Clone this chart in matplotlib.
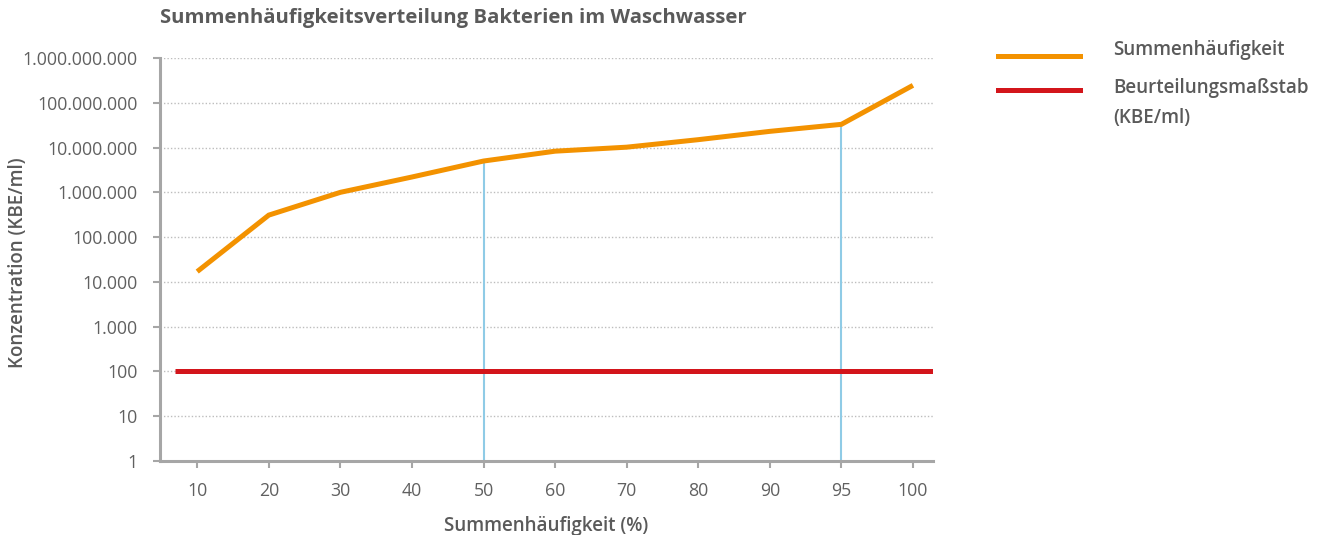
import matplotlib
matplotlib.use("Agg")
import matplotlib.pyplot as plt
from matplotlib.lines import Line2D
from matplotlib.ticker import FixedLocator, NullLocator

plt.rcParams['font.family'] = ['Open Sans', 'DejaVu Sans']

categories = ["10", "20", "30", "40", "50", "60", "70", "80", "90", "95", "100"]
summen = [17000, 310000, 1000000, 2200000, 5000000, 8300000, 10200000,
          15000000, 23000000, 33000000, 245000000]
beurteilung = 100
marker_cats = ["50", "95"]
yticks = [1, 10, 100, 1000, 10000, 100000, 1000000, 10000000, 100000000, 1000000000]
ytick_labels = ["1", "10", "100", "1.000", "10.000", "100.000", "1.000.000",
                "10.000.000", "100.000.000", "1.000.000.000"]

TXT = "#5a5a5a"
ORANGE = "#f39200"
RED = "#d3151b"
BLUE = "#8fcbe6"

fig = plt.figure(figsize=(13.22, 5.35), dpi=100)
ax = fig.add_axes([160/1322, 1-461/535, (933-160)/1322, (461-58)/535])

x = list(range(len(categories)))
ax.set_yscale("log")
ax.set_ylim(1, 1e9)
ax.set_xlim(-0.52, 10.28)

# grid
for v in yticks[1:]:
    ax.axhline(v, color="#bdbdbd", lw=1.0, ls=(0, (1, 1.5)), zorder=1)

# vertical markers
for c in marker_cats:
    i = categories.index(c)
    ax.vlines(i, 1, summen[i], color=BLUE, lw=1.5, zorder=2)

# red threshold
ax.plot([-0.31, 10.28], [beurteilung, beurteilung], color=RED, lw=3.6,
        solid_capstyle="butt", zorder=3)
# orange curve
ax.plot(x, summen, color=ORANGE, lw=3.6, solid_capstyle="butt",
        solid_joinstyle="miter", zorder=4)

ax.yaxis.set_major_locator(FixedLocator(yticks))
ax.yaxis.set_minor_locator(NullLocator())
ax.set_yticklabels(ytick_labels)
ax.set_xticks(x)
ax.set_xticklabels(categories)

for s in ["top", "right"]:
    ax.spines[s].set_visible(False)
for s in ["left", "bottom"]:
    ax.spines[s].set_color("#a6a6a6")
    ax.spines[s].set_linewidth(2.2)
ax.tick_params(axis="both", colors="#a6a6a6", labelcolor="#606060", labelsize=12.8,
               length=5, width=1.5)
ax.tick_params(axis="x", pad=10)
ax.tick_params(axis="y", pad=11)

ax.set_xlabel("Summenhäufigkeit (%)", fontsize=13.5, color=TXT, fontweight="semibold",
              labelpad=12)
ax.set_ylabel("Konzentration (KBE/ml)", fontsize=13.5, color=TXT, fontweight="semibold")
ax.yaxis.set_label_coords(-152/773, 0.49, transform=None)
ax.yaxis.label.set_position((18/1322, 1-263/535))
ax.yaxis.label.set_transform(fig.transFigure)
ax.yaxis.label.set_va("center")
ax.yaxis.label.set_ha("center")
fig.text(160/1322, 1-18/535, "Summenhäufigkeitsverteilung Bakterien im Waschwasser",
         fontsize=14.6, fontweight="bold", color=TXT, ha="left", va="center")

# legend
fig.add_artist(Line2D([998/1322, 1080/1322], [1-56/535, 1-56/535], color=ORANGE, lw=3.6,
                      transform=fig.transFigure))
fig.add_artist(Line2D([998/1322, 1080/1322], [1-90/535, 1-90/535], color=RED, lw=3.6,
                      transform=fig.transFigure))
fig.text(1113/1322, 1-50/535, "Summenhäufigkeit", fontsize=13.5, color=TXT,
         fontweight="semibold", ha="left", va="center")
fig.text(1113/1322, 1-88/535, "Beurteilungsmaßstab", fontsize=13.5, color=TXT,
         fontweight="semibold", ha="left", va="center")
fig.text(1113/1322, 1-118/535, "(KBE/ml)", fontsize=13.5, color=TXT,
         fontweight="semibold", ha="left", va="center")

fig.savefig("out.png", dpi=100)
